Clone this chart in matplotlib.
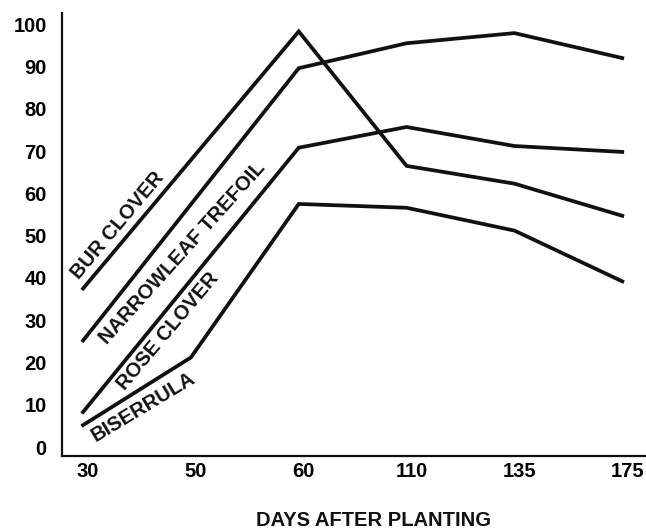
import matplotlib
matplotlib.use("Agg")
import matplotlib.pyplot as plt
import matplotlib.transforms as mtransforms

# Data
days = ["30", "50", "60", "110", "135", "175"]
y_ticks = [0, 10, 20, 30, 40, 50, 60, 70, 80, 90, 100]

bur_days = ["30", "60", "110", "135", "175"]
bur_vals = [37.5, 98.3, 66.5, 62.3, 54.7]

narrow_days = ["30", "60", "110", "135", "175"]
narrow_vals = [25.2, 89.6, 95.5, 97.9, 92.0]

rose_days = ["30", "60", "110", "135", "175"]
rose_vals = [8.3, 70.8, 75.7, 71.2, 69.8]

bis_days = ["30", "50", "60", "110", "135", "175"]
bis_vals = [5.2, 21.2, 57.5, 56.6, 51.2, 39.2]

plt.rcParams['font.family'] = ['Liberation Sans', 'DejaVu Sans']
plt.rcParams['font.weight'] = 'bold'

fig = plt.figure(figsize=(6.46, 5.29), dpi=100)
ax = fig.add_axes([0.096, 0.138, 0.904, 0.837])

pos = {d: i for i, d in enumerate(days)}
lw = 2.7
col = "#111111"
for dd, vv in [(bur_days, bur_vals), (narrow_days, narrow_vals),
               (rose_days, rose_vals), (bis_days, bis_vals)]:
    ax.plot([pos[d] for d in dd], vv, color=col, lw=lw, solid_joinstyle='miter')

ax.set_xlim(-0.195, 5.22)
ax.set_ylim(-2.1, 102.6)

ax.set_xticks(range(len(days)))
ax.set_xticklabels(days, fontsize=14.5, fontweight='bold')
ax.set_yticks(y_ticks)
ax.set_yticklabels([str(v) for v in y_ticks], fontsize=14.5, fontweight='bold')
ax.tick_params(axis='x', length=0, pad=4)
ax.tick_params(axis='y', length=0, pad=11)
offset = mtransforms.ScaledTranslation(5 / 100, 0, fig.dpi_scale_trans)
for lab in ax.get_xticklabels():
    lab.set_transform(lab.get_transform() + offset)

for s in ['top', 'right']:
    ax.spines[s].set_visible(False)
for s in ['left', 'bottom']:
    ax.spines[s].set_linewidth(1.6)
    ax.spines[s].set_color(col)

# Line labels
lab_kw = dict(fontsize=14.5, fontweight='bold', ha='center', va='center',
              rotation_mode='anchor', color=col)
ax.text(0.325, 52.5, "BUR CLOVER", rotation=50, **lab_kw)
ax.text(0.918, 45.9, "NARROWLEAF TREFOIL", rotation=48, **lab_kw)
ax.text(0.79, 27.4, "ROSE CLOVER", rotation=50, **lab_kw)
ax.text(0.557, 9.5, "BISERRULA", rotation=31, **lab_kw)

fig.text(373 / 646, 1 - 520 / 529, "DAYS AFTER PLANTING", fontsize=14.5,
         fontweight='bold', ha='center', va='center', color=col)

fig.savefig("out.png", dpi=100)
